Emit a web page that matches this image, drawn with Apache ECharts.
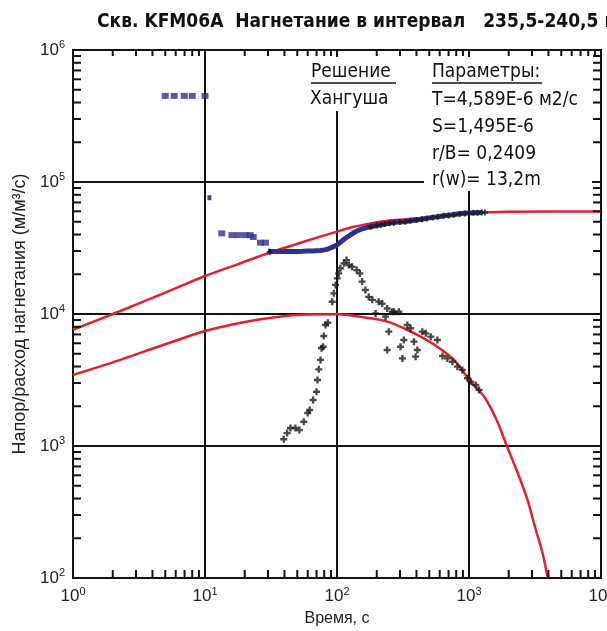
<!DOCTYPE html>
<html><head><meta charset="utf-8">
<script src="https://cdn.jsdelivr.net/npm/echarts@6/dist/echarts.min.js"></script>
<style>html,body{margin:0;padding:0;background:#fff}#c{width:607px;height:631px}</style>
</head><body><div id="c"></div>
<script>
// ---- tick data ----
const xTickExp = [0, 1, 2, 3, 4];
const yTickExp = [2, 3, 4, 5, 6];
const minorMult = [2, 3, 4, 5, 6, 7, 8, 9];
const xDecades = [1, 10, 100, 1000];
const yDecades = [100, 1000, 10000, 100000];
const xMajorInner = [10, 100, 1000];
const yMajorInner = [1000, 10000, 100000];

// ---- type curves (Hantush) ----
const curveUpper = [[1,7600],[2,10000],[5,14500],[10,19400],[18,24000],[32,29500],[56,35300],[100,42100],[134,45800],[180,48600],[240,50900],[321,52100],[576,54600],[1030,58000],[2000,59500],[4000,59700],[10000,59700]];
const curveLower = [[1,3450],[2,4300],[3,4950],[5,5900],[10,7430],[20,8700],[35,9500],[60,9900],[100,9950],[180,9270],[240,8750],[321,7800],[430,6730],[576,5650],[771,4490],[1031,3070],[1300,2370],[1620,1575],[1935,1000],[2400,585],[2775,390],[3210,231],[3610,154],[3950,100]];

// ---- measured pressure (blue) ----
const blueEarly = [[5.0,449000],[5.84,449000],[6.96,449000],[8.0,449000],[10.0,449000],[13.4,40800],[16.0,39600],[17.9,39600],[20.2,39600],[22.0,39600],[23.2,38300],[26.3,34700],[28.7,34700]];
const blueLone = [[10.8,76000]];
const blueBand = [[30,30000],[32,29800],[35,29700],[38,29700],[42,29700],[46,29800],[50,29800],[55,29900],[60,30000],[65,30000],[70,30200],[75,30300],[80,30600],[85,31000],[90,31800],[95,32500],[100,33400],[106,35000],[112,36500],[118,38000],[126,39600],[135,41500],[145,43000],[155,44200],[168,45200],[180,45800],[200,46800],[230,48000],[260,49000],[290,49700],[320,50000],[360,50800],[400,51500],[450,52500],[500,53500],[580,54600],[650,55500],[730,56300],[820,57200],[912,58000],[1000,58300],[1100,58500],[1165,58500],[1250,58700]];
const blackUpper = [[31,29500],[180,45800],[200,46800],[215,47500],[230,48000],[250,48700],[270,49200],[300,49700],[330,50000],[360,50800],[400,51500],[440,52200],[480,53000],[530,53800],[580,54600],[640,55400],[700,55800],[770,56500],[850,57300],[930,57800],[1000,58200],[1080,58500],[1160,58500],[1250,58700],[1320,58700]];

// ---- derivative (black crosses) ----
const deriv = [[39.5,1125],[41.9,1253],[44.4,1368],[48.4,1368],[51.9,1320],[56,1527],[60,1778],[62.1,1875],[65.9,2230],[69.9,2576],[71.1,3162],[72.8,3811],[75,4487],[76.3,5500],[78.5,5650],[79.4,6810],[81.8,8260],[85.2,8590],[92,12380],[94.6,14350],[97.5,16600],[100.4,18600],[103,20300],[106,22200],[113,24200],[118,25600],[123,23500],[130,22800],[141,21500],[149,20300],[155,17600],[164,15200],[174,13500],[185,12800],[196,10100],[207,12400],[220,12000],[233,9550],[240,11000],[262,10400],[270,10400],[294,10400],[247,7350],[240,5340],[303,5650],[313,4610],[321,6350],[383,6170],[394,4750],[406,5340],[341,8260],[361,7800],[443,7350],[470,7140],[513,6730],[576,6350],[630,4810],[686,4610],[749,4350],[817,3990],[891,3770],[973,3260],[1031,3070],[1125,2900],[1192,2660]];

// ---- texts ----
const titleText = 'Скв. KFM06A  Нагнетание в интервал   235,5-240,5 м';
const solutionLines = ['Решение', 'Хангуша'];
const paramLines = ['Параметры:', 'T=4,589E-6 м2/с', 'S=1,495E-6', 'r/B= 0,2409', 'r(w)= 13,2m'];
const xName = 'Время, с';
const yName = 'Напор/расход нагнетания (м/м³/с)';

const tickData = [];
xDecades.forEach(d => minorMult.forEach(m => tickData.push([d * m, 100, 0])));
yDecades.forEach(d => minorMult.forEach(m => tickData.push([1, d * m, 1])));
xMajorInner.forEach(v => tickData.push([v, 100, 2]));
yMajorInner.forEach(v => tickData.push([1, v, 3]));

const FONT_TXT = "'Liberation Sans Narrow','DejaVu Sans Condensed',Roboto,sans-serif";
const AX_FONT = "'Liberation Sans', Arial, sans-serif";
const plus = 'path://M3,0H6V3H9V6H6V9H3V6H0V3H3Z';

function expLabel(list) {
  return function (v) {
    const e = Math.round(Math.log10(v));
    return list.indexOf(e) >= 0 ? '{b|10}{s|' + e + '}' : '';
  };
}
const richLbl = {
  b: { fontSize: 17, fontFamily: AX_FONT, color: '#222' },
  s: { fontSize: 11, fontFamily: AX_FONT, color: '#222', padding: [0, 0, 10, 0] }
};

const chart = echarts.init(document.getElementById('c'), null, { renderer: 'canvas' });
const txtEl = (t, x, y) => ({ type: 'text', x: x, y: y, z: 5,
  style: { text: t, font: '19px ' + FONT_TXT, fill: '#111', textAlign: 'left', textVerticalAlign: 'middle' } });

chart.setOption({
  animation: false,
  backgroundColor: '#fff',
  title: { text: titleText, left: 97, top: 13, padding: 0,
    textStyle: { fontSize: 19, fontWeight: 'bold', color: '#111', fontFamily: FONT_TXT } },
  grid: { left: 73, right: 6, top: 50, bottom: 53, outerBoundsMode: 'none', containLabel: false,
    show: true, borderColor: '#111', borderWidth: 2, backgroundColor: 'transparent' },
  xAxis: {
    type: 'log', logBase: 10, min: 1, max: 10000,
    name: xName, nameLocation: 'middle', nameGap: 33,
    nameTextStyle: { fontSize: 16, color: '#222', fontFamily: AX_FONT },
    axisLine: { show: false }, axisTick: { show: false },
    splitLine: { show: true, lineStyle: { color: '#111', width: 2 } },
    axisLabel: { formatter: expLabel(xTickExp), rich: richLbl, margin: 8 }
  },
  yAxis: {
    type: 'log', logBase: 10, min: 100, max: 1000000,
    name: yName, nameLocation: 'middle', nameGap: 42,
    nameTextStyle: { fontSize: 18, color: '#222', fontFamily: AX_FONT },
    axisLine: { show: false }, axisTick: { show: false },
    splitLine: { show: true, lineStyle: { color: '#111', width: 2 } },
    axisLabel: { formatter: expLabel(yTickExp), rich: richLbl, margin: 8 }
  },
  graphic: [
    { type: 'rect', z: 1, shape: { x: 300, y: 57, width: 100, height: 54 }, style: { fill: '#fff' } },
    { type: 'rect', z: 1, shape: { x: 424, y: 57, width: 174, height: 134 }, style: { fill: '#fff' } },
    txtEl(solutionLines[0], 311, 72),
    txtEl(solutionLines[1], 310, 99),
    { type: 'line', z: 5, shape: { x1: 311, y1: 83, x2: 396, y2: 83 }, style: { stroke: '#111', lineWidth: 1.5 } },
    txtEl(paramLines[0], 432, 72),
    { type: 'line', z: 5, shape: { x1: 432, y1: 83, x2: 542, y2: 83 }, style: { stroke: '#111', lineWidth: 1.5 } },
    txtEl(paramLines[1], 432, 100),
    txtEl(paramLines[2], 432, 127),
    txtEl(paramLines[3], 432, 154),
    txtEl(paramLines[4], 432, 180)
  ],
  series: [
    { type: 'custom', z: 4, silent: true, clip: false, data: tickData, encode: { x: 0, y: 1 },
      renderItem: function (params, api) {
        const f = api.value(2);
        const st = { stroke: '#111', lineWidth: 2 };
        if (f === 0 || f === 2) {
          const v = api.value(0);
          const b = api.coord([v, 100]), t = api.coord([v, 1000000]);
          const L = f === 2 ? 9 : 8;
          return { type: 'group', children: [
            { type: 'line', shape: { x1: b[0], y1: b[1], x2: b[0], y2: b[1] - L }, style: st },
            { type: 'line', shape: { x1: t[0], y1: t[1], x2: t[0], y2: t[1] + L - 2 }, style: st }
          ] };
        } else {
          const v = api.value(1);
          const l = api.coord([1, v]), r = api.coord([10000, v]);
          const L = f === 3 ? 9 : 8;
          return { type: 'group', children: [
            { type: 'line', shape: { x1: l[0], y1: l[1], x2: l[0] + L, y2: l[1] }, style: st },
            { type: 'line', shape: { x1: r[0], y1: r[1], x2: r[0] - L, y2: r[1] }, style: st }
          ] };
        }
      }
    },
    { type: 'line', z: 2, data: curveUpper, smooth: 0.3, showSymbol: false, lineStyle: { color: '#e3202c', width: 2.5 } },
    { type: 'line', z: 2, data: curveLower, smooth: 0.3, showSymbol: false, lineStyle: { color: '#e3202c', width: 2.5 } },
    { type: 'line', z: 3, data: blueBand, smooth: false, showSymbol: false, lineStyle: { color: '#2e3192', width: 5 } },
    { type: 'scatter', z: 3, data: blueEarly, symbol: 'rect', symbolSize: [7, 6], itemStyle: { color: '#2e3192' } },
    { type: 'scatter', z: 3, data: blueLone, symbol: 'rect', symbolSize: [4, 5], itemStyle: { color: '#1a1a40' } },
    { type: 'scatter', z: 4, data: blackUpper, symbol: plus, symbolSize: 6, itemStyle: { color: '#1a1a1a' } },
    { type: 'scatter', z: 4, data: deriv, symbol: plus, symbolSize: 7, itemStyle: { color: '#1a1a1a' } }
  ]
});
</script></body></html>
